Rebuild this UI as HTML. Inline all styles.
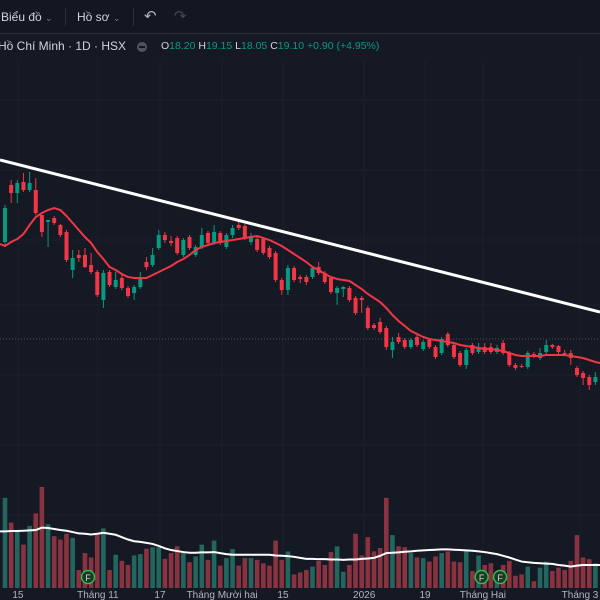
<!DOCTYPE html>
<html><head><meta charset="utf-8"><style>
html,body{margin:0;padding:0;background:#151924;width:600px;height:600px;overflow:hidden;font-family:"Liberation Sans","Noto Sans CJK SC",sans-serif}
#wrap{position:relative;width:600px;height:600px}
.tb{position:absolute;top:0;left:0;width:600px;height:33px;background:#131722;border-bottom:1px solid #2a2e39}
.t{position:absolute;color:#d1d4dc;font-size:12px;white-space:nowrap}
.sep{position:absolute;top:8px;width:1px;height:18px;background:#2a2e39}
svg{position:absolute;left:0;top:0}
</style></head><body>
<div id="wrap">
<div class="tb">
 <span class="t" style="left:1px;top:10px">Biểu đồ <span style="color:#787b86;font-size:9px">⌄</span></span>
 <div class="sep" style="left:65px"></div>
 <span class="t" style="left:77px;top:10px">Hồ sơ <span style="color:#787b86;font-size:9px">⌄</span></span>
 <div class="sep" style="left:133px"></div>
 <span class="t" style="left:144px;top:7px;font-size:15px;color:#b2b5be">↶</span>
 <span class="t" style="left:174px;top:7px;font-size:15px;color:#434651">↷</span>
</div>
<span class="t" style="left:-2px;top:39px;font-size:12px;color:#d1d4dc">Hồ Chí Minh · 1D · HSX</span>
<div style="position:absolute;left:137px;top:42px;width:10px;height:10px;border-radius:5px;background:#50535e"><div style="position:absolute;left:2px;top:4px;width:6px;height:2px;background:#131722"></div></div>
<span class="t" style="left:161px;top:40px;font-size:10.5px;color:#d1d4dc">O<span style="color:#089981">18.20</span> H<span style="color:#089981">19.15</span> L<span style="color:#089981">18.05</span> C<span style="color:#089981">19.10</span> <span style="color:#089981">+0.90 (+4.95%)</span></span>
<svg id="chart" width="600" height="600" style="top:0;pointer-events:none"></svg>
</div>
<script>
const opens=[25.8,31.5,30.7,31.8,31.0,31.0,28.5,27.8,28.2,27.5,26.8,23.0,24.5,24.5,23.5,22.8,20.0,22.8,21.3,22.2,21.2,20.7,21.3,23.8,23.5,25.2,26.5,25.9,26.2,24.5,26.3,24.5,25.3,26.7,25.7,26.7,25.3,26.5,27.5,27.4,25.8,26.1,26.1,25.2,24.7,22.0,21.0,23.2,22.3,22.3,22.3,23.3,22.7,22.2,20.7,21.1,21.2,20.2,20.2,19.2,17.5,17.8,17.2,15.0,16.3,16.0,15.3,16.3,15.1,16.0,15.3,14.7,16.6,15.5,14.7,13.5,15.5,14.8,15.3,15.3,14.8,15.7,14.7,13.5,13.4,13.3,14.6,14.2,14.8,15.5,15.4,14.7,14.7,13.2,12.7,12.3,11.8];
const closes=[29.2,30.7,31.7,31.0,31.7,28.7,26.8,28.0,27.7,26.5,24.0,24.2,24.2,23.3,22.8,20.5,22.7,21.5,22.0,21.2,20.4,21.3,22.3,23.3,24.5,26.5,26.0,25.7,24.7,26.0,25.2,25.3,26.5,25.7,26.8,25.7,26.5,27.2,27.2,26.2,26.4,25.0,24.7,24.3,22.0,21.0,23.2,22.0,22.1,21.8,23.2,22.7,21.8,20.8,21.2,21.3,20.0,18.7,20.0,17.2,17.2,16.8,15.3,15.8,15.8,15.3,16.0,15.5,15.8,15.3,14.3,16.1,15.5,14.3,13.5,15.0,14.7,15.3,14.8,14.8,15.2,14.7,13.5,13.2,13.3,14.7,14.3,14.7,15.5,15.3,14.8,14.6,14.2,12.5,12.2,11.5,12.3];
const highs=[29.5,32.0,32.0,32.7,32.8,32.2,28.5,28.0,28.4,27.6,27.0,25.0,25.0,25.2,24.7,23.0,23.0,23.0,22.8,22.7,21.4,21.5,22.8,24.3,25.2,27.0,26.8,26.4,26.4,26.2,26.5,25.5,27.2,26.9,27.5,26.9,26.7,27.5,27.9,27.6,26.7,26.3,26.3,25.4,24.9,22.2,23.5,23.4,22.5,22.5,23.4,23.8,22.9,22.4,21.4,21.4,21.4,20.4,20.4,19.4,17.7,18.2,17.4,16.3,16.7,16.2,16.2,16.5,16.0,16.2,15.5,16.3,16.8,15.7,14.9,15.2,15.7,15.7,15.7,15.7,15.5,16.0,14.9,13.7,13.6,14.9,14.8,15.2,16.0,15.6,15.5,15.0,15.0,13.4,12.9,12.5,12.8];
const lows=[25.5,29.7,29.7,30.8,30.8,28.5,26.3,25.3,27.5,26.3,23.8,22.2,23.8,23.2,22.6,20.3,19.2,21.3,21.1,21.0,20.2,20.0,21.1,23.0,23.3,25.0,25.7,25.4,24.5,24.3,25.0,24.3,25.1,25.5,25.5,25.5,25.1,26.2,27.0,26.0,25.5,24.8,24.5,24.1,21.8,20.5,20.5,21.8,21.7,21.5,22.1,22.5,21.6,20.6,19.5,20.3,19.8,18.5,18.7,17.0,17.0,16.6,15.0,14.2,15.6,15.1,15.1,15.3,14.9,15.1,14.1,14.5,15.3,14.1,13.3,13.1,14.5,14.6,14.6,14.6,14.6,14.5,13.3,13.0,13.2,13.1,14.2,14.0,14.6,15.1,14.6,14.4,13.5,12.3,11.5,11.0,11.5];
const maValues=[25.4,25.8,26.1,26.6,27.5,28.3,28.7,29.0,29.2,29.0,28.4,27.7,27.0,26.3,25.7,24.8,24.1,23.3,23.0,22.6,22.3,22.2,22.2,22.2,22.5,22.8,23.1,23.4,23.8,24.1,24.5,25.0,25.3,25.5,25.7,25.8,25.9,26.0,26.1,26.2,26.3,26.4,26.2,26.0,25.7,25.4,25.0,24.6,24.2,23.8,23.3,23.0,22.6,22.3,22.1,22.0,21.9,21.5,21.1,20.6,20.2,19.8,19.2,18.5,17.9,17.4,16.9,16.6,16.3,16.1,16.0,15.9,15.8,15.7,15.5,15.4,15.3,15.2,15.1,15.1,15.0,14.9,14.7,14.5,14.4,14.4,14.4,14.4,14.5,14.5,14.5,14.5,14.4,14.3,14.2,14.0,13.8];
const volumes=[266,193,168,128,183,220,298,188,153,143,160,148,53,103,90,158,176,53,98,80,68,96,100,116,120,120,86,103,123,103,76,93,128,83,140,66,88,115,66,88,88,83,73,66,140,83,108,40,46,53,63,80,68,106,123,48,68,160,96,150,108,118,266,156,123,120,103,90,88,78,93,103,108,78,76,111,50,96,68,73,48,68,80,36,40,63,20,60,78,50,60,53,80,156,90,85,73];
const volMA=[167,168,168,169,170,171,178,177,174,171,169,165,161,160,158,160,163,160,157,150,143,138,136,133,130,124,117,112,109,106,104,104,105,105,106,103,100,98,98,98,98,98,98,98,96,95,94,92,89,86,86,85,85,84,84,83,84,84,86,87,89,95,103,104,105,107,108,110,111,112,113,114,114,113,112,111,110,108,106,103,100,95,90,84,78,76,74,73,72,71,68,66,63,66,68,68,68];
const trendIdx=[-0.81,96.75];
const trendPrice=[34.0,18.8];
const xTickLabels=["15","Tháng 11","17","Tháng Mười hai","15","2026","19","Tháng Hai","Tháng 3"];
const xTickIdx=[2.1,15.1,25.2,35.3,45.2,58.4,68.3,77.7,93.5];
const earningsIdx=[13.5,77.5,80.5];

const NS="http://www.w3.org/2000/svg";
const svg=document.getElementById('chart');
const X=i=>5+6.15*i;
const Y=p=>500-10*p;
const VY=v=>588-v/2.95;
function mk(tag,attrs,parent){const e=document.createElementNS(NS,tag);for(const k in attrs)e.setAttribute(k,attrs[k]);(parent||svg).appendChild(e);return e;}
[100,170,240,305,375,445,515].forEach(y=>{const g=mk('line',{x1:0,x2:600,y1:y,y2:y,stroke:'#1c202b','stroke-width':1});

});
xTickIdx.forEach(i=>{const g=mk('line',{x1:X(i),x2:X(i),y1:60,y2:585,stroke:'#1c202b','stroke-width':1});

});
const pl=mk('line',{x1:0,x2:600,y1:339,y2:339,stroke:'#4a4e5a','stroke-width':1,'stroke-dasharray':'1 2'});


volumes.forEach((v,i)=>{const up=closes[i]>=opens[i];const r=mk('rect',{x:X(i)-2.3,y:VY(v),width:4.6,height:588-VY(v),fill:up?'#22665f':'#8a3340'});

});
let d='';volMA.forEach((v,i)=>{d+=(i?'L':'M')+X(i)+' '+VY(v);});
const vm=mk('path',{d:'M0 '+VY(volMA[0])+' L'+d.slice(1)+' L600 '+VY(volMA[volMA.length-1]),fill:'none',stroke:'#ffffff','stroke-width':2});


opens.forEach((o,i)=>{const c=closes[i];const up=c>=o;const col=up?'#089981':'#f23645';
const g=mk('g',{});


mk('line',{x1:X(i),x2:X(i),y1:Y(highs[i]),y2:Y(lows[i]),stroke:col,'stroke-width':1},g);
const top=Math.min(Y(o),Y(c));mk('rect',{x:X(i)-2,y:top,width:4,height:Math.max(1,Math.abs(Y(o)-Y(c))),fill:col},g);});
d='';maValues.forEach((v,i)=>{d+=(i?'L':'M')+X(i)+' '+Y(v);});
const ma=mk('path',{d:'M0 '+Y(maValues[0]+0.2)+' L'+d.slice(1)+' L600 '+Y(maValues[maValues.length-1]-0.1),fill:'none',stroke:'#f23645','stroke-width':2});


const tl=mk('line',{x1:X(trendIdx[0]),y1:Y(trendPrice[0]),x2:X(trendIdx[1]),y2:Y(trendPrice[1]),stroke:'#ffffff','stroke-width':3});


earningsIdx.forEach(i=>{const g=mk('g',{});


mk('circle',{cx:X(i),cy:577,r:6.5,fill:'#1b3a24',stroke:'#2dbd4e','stroke-width':1.5},g);
const t=mk('text',{x:X(i),y:581,'text-anchor':'middle','font-size':9,fill:'#d1d4dc','font-family':'Liberation Sans, sans-serif'},g);t.textContent='F';});
xTickLabels.forEach((s,k)=>{const t=mk('text',{x:X(xTickIdx[k]),y:598,'text-anchor':'middle','font-size':10,fill:'#b2b5be','font-family':'Liberation Sans, sans-serif'});t.textContent=s;

});
</script>
</body></html>
